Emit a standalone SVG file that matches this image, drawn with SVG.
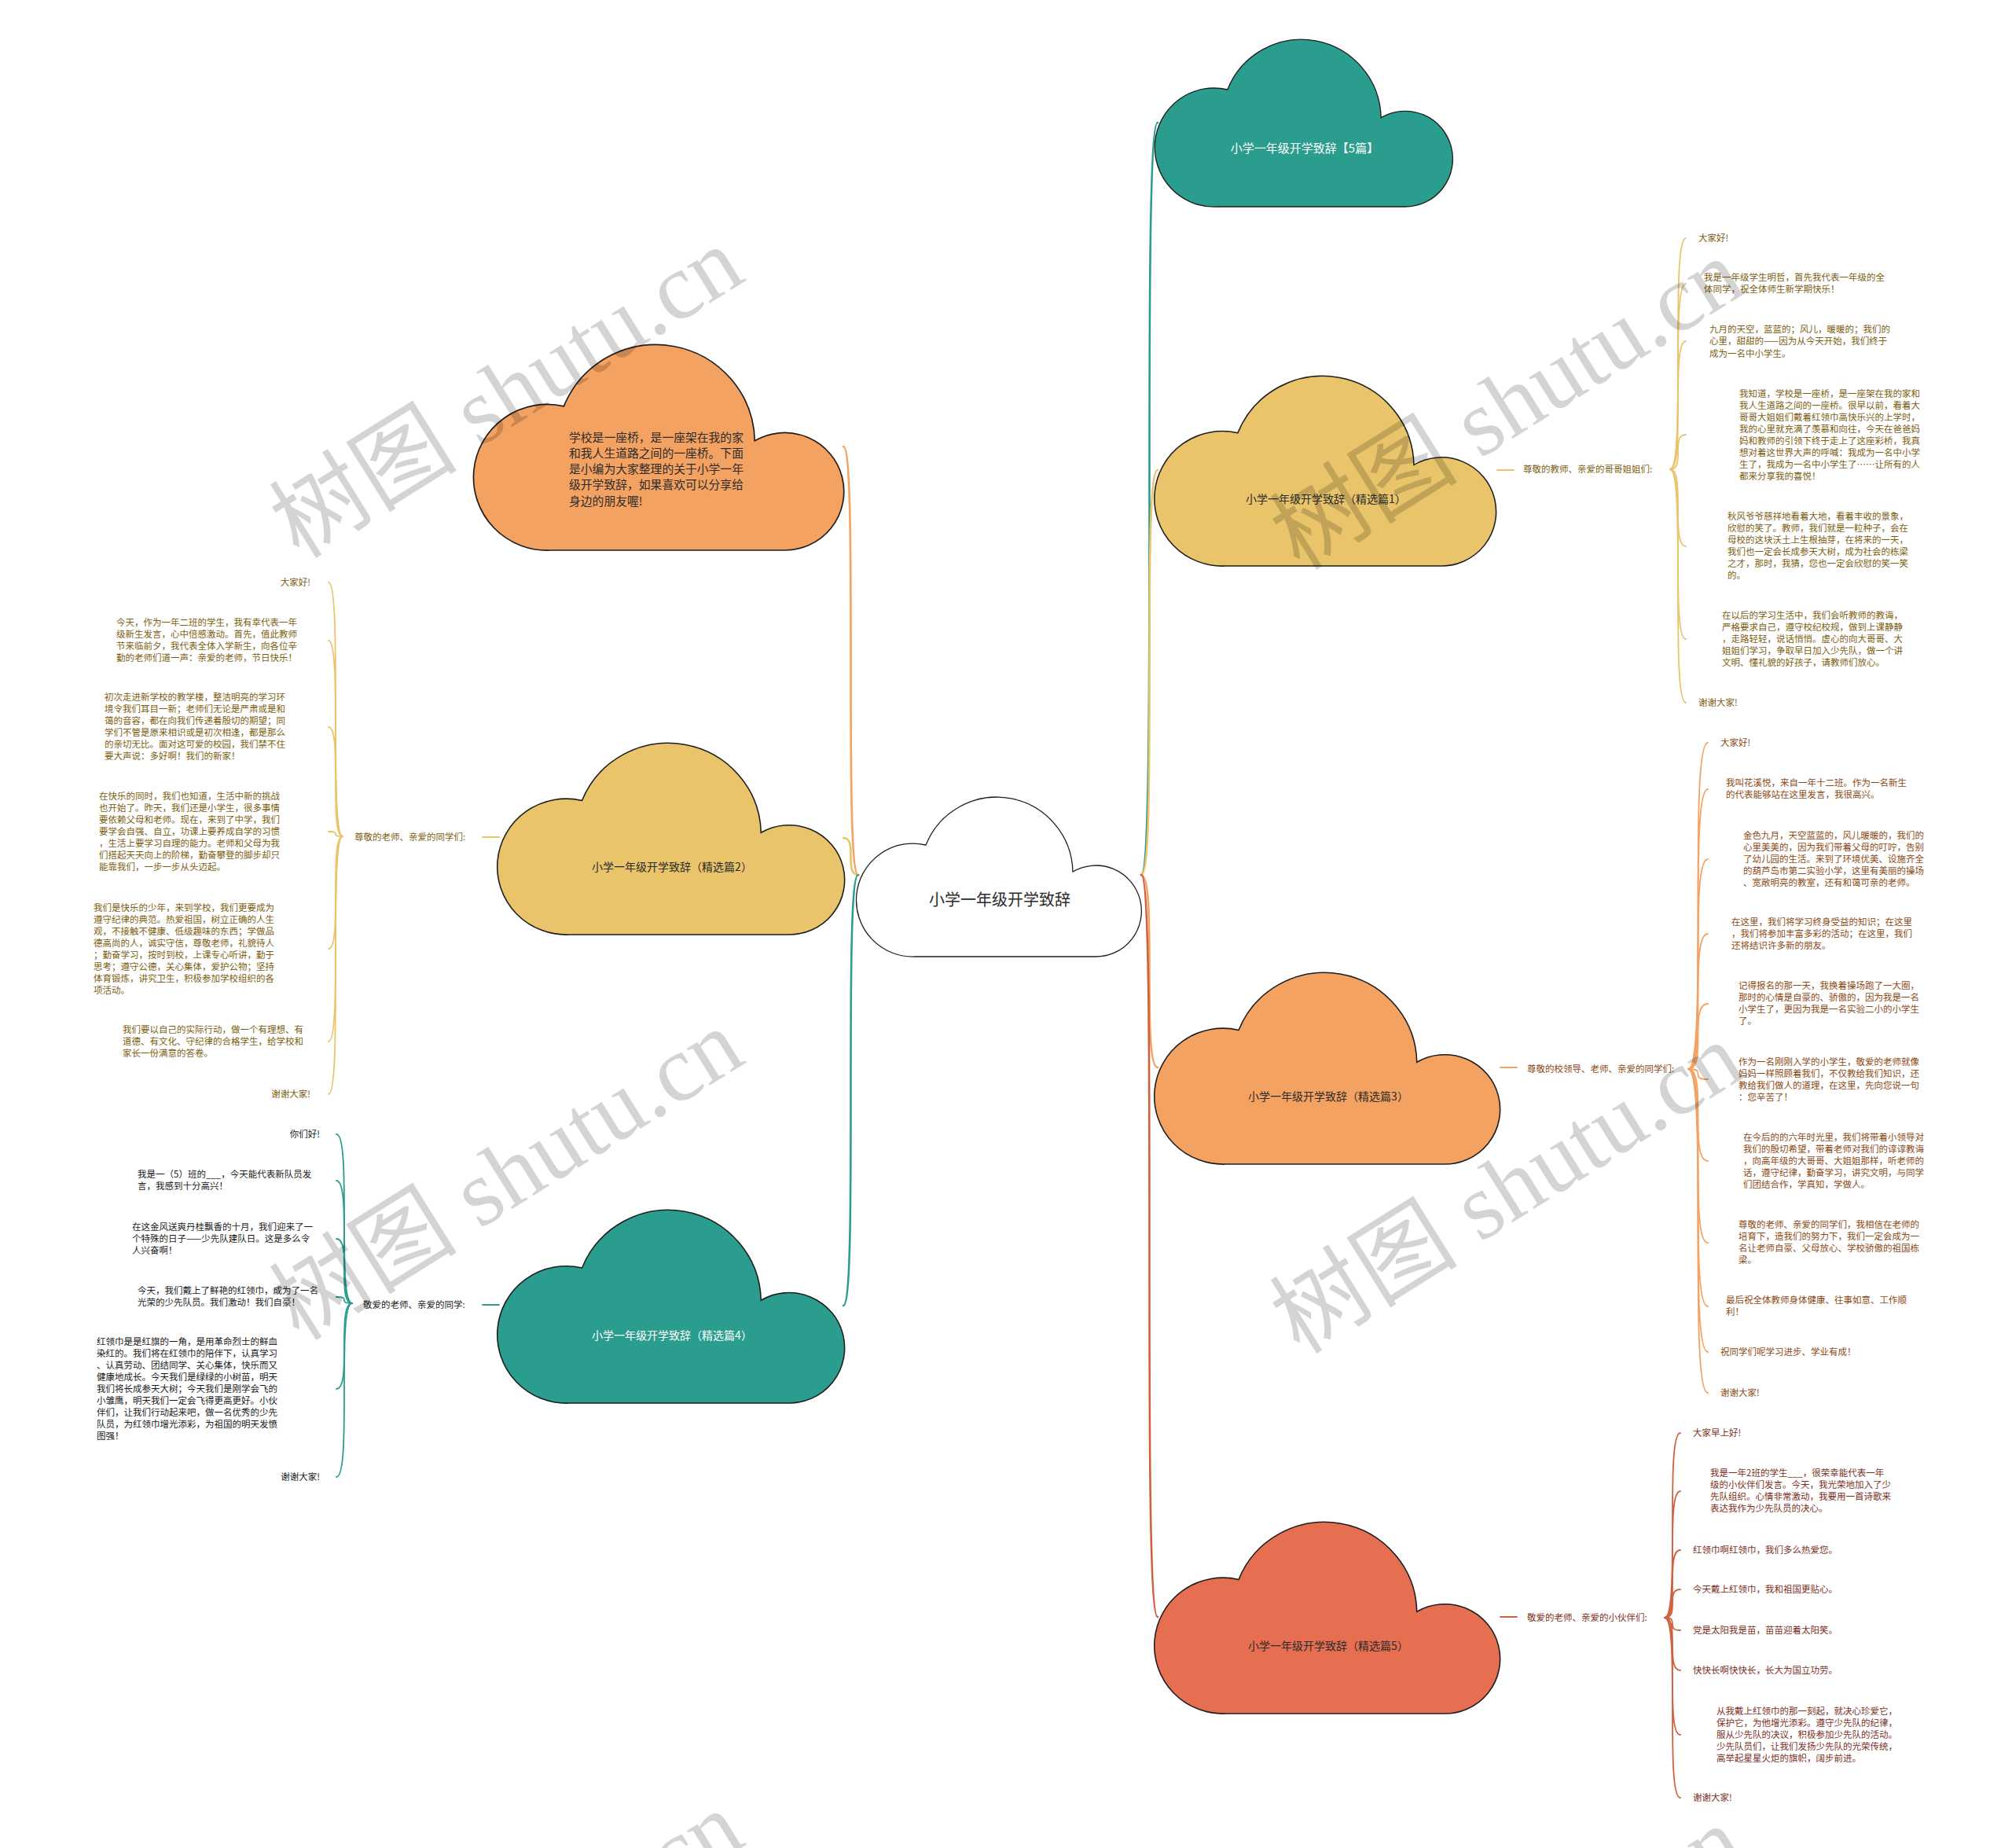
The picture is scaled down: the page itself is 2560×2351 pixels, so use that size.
<svg xmlns="http://www.w3.org/2000/svg" xmlns:xlink="http://www.w3.org/1999/xlink" width="2560" height="2351" viewBox="0 0 2560 2351">
<style>
text{font-family:"Noto Sans CJK SC","Noto Sans",sans-serif}
.cloud{stroke:#1e1e1e;stroke-width:1.3}
.c-teal{fill:#2A9D8F}.c-orange{fill:#F4A261}.c-yellow{fill:#E9C46A}.c-red{fill:#E76F51}.c-white{fill:#ffffff}
.ttl{font-size:14px;text-anchor:middle}
.dark{fill:#2b2b2b}.light{fill:#ffffff}
.leaf{font-size:11.5px}
.lbl{font-size:11.5px}
.ty{fill:#7d5e10}.to{fill:#8c4a14}.tr{fill:#7c2f1e}.tt{fill:#1a1a1a}
.ln{fill:none;stroke-linecap:round}
.ly{stroke:#E9C46A}.lo{stroke:#F4A261}.lt{stroke:#2A9D8F}.lr{stroke:#D0613F}
.main{stroke-width:2.6}.sub{stroke-width:1.8}
.wm{font-family:"Liberation Serif","Noto Sans CJK SC",serif;font-size:120px;fill:#000;fill-opacity:0.17;text-anchor:middle}
</style>
<defs>
<path id="cloud" d="M72,204 A72,72 0 1 1 85,62 A97,97 0 0 1 272,96 A58,58 0 1 1 300,204 Z"/>
</defs>
<rect width="2560" height="2351" fill="#ffffff"/>

<g id="connectors">
<path class="ln lo main" d="M1092,1113 C1073,1113 1092,568 1073,568"/>
<path class="ln ly main" d="M1092,1113 C1073,1113 1092,1066 1073,1066"/>
<path class="ln lt main" d="M1092,1113 C1073,1113 1092,1661 1073,1661"/>
<path class="ln lt main" d="M1452,1113 C1473,1113 1452,156 1473,156"/>
<path class="ln ly main" d="M1452,1113 C1473,1113 1452,598 1473,598"/>
<path class="ln lo main" d="M1452,1113 C1473,1113 1452,1358 1473,1358"/>
<path class="ln lr main" d="M1452,1113 C1473,1113 1452,2057 1473,2057"/>
<path class="ln ly sub" d="M1905,598 H1926"/>
<path class="ln lo sub" d="M1909,1358 H1930"/>
<path class="ln lr sub" d="M1909,2057 H1930"/>
<path class="ln ly sub" d="M614,1065 H635"/>
<path class="ln lt sub" d="M614,1660 H635"/>
<g class="ln ly sub">
<path d="M436,1064 C418,1064 436,741 418,741"/>
<path d="M436,1064 C418,1064 436,815 418,815"/>
<path d="M436,1064 C418,1064 436,925 418,925"/>
<path d="M436,1064 C418,1064 436,1058 418,1058"/>
<path d="M436,1064 C418,1064 436,1207 418,1207"/>
<path d="M436,1064 C418,1064 436,1325 418,1325"/>
<path d="M436,1064 C418,1064 436,1392 418,1392"/>
</g>
<g class="ln lt sub">
<path d="M448,1658 C428,1658 448,1443 428,1443"/>
<path d="M448,1658 C428,1658 448,1502 428,1502"/>
<path d="M448,1658 C428,1658 448,1576 428,1576"/>
<path d="M448,1658 C428,1658 448,1650 428,1650"/>
<path d="M448,1658 C428,1658 448,1767 428,1767"/>
<path d="M448,1658 C428,1658 448,1879 428,1879"/>
</g>
<g class="ln ly sub">
<path d="M2125,597 C2145,597 2125,303 2145,303"/>
<path d="M2125,597 C2145,597 2125,361 2145,361"/>
<path d="M2125,597 C2145,597 2125,434 2145,434"/>
<path d="M2125,597 C2145,597 2125,553 2145,553"/>
<path d="M2125,597 C2145,597 2125,695 2145,695"/>
<path d="M2125,597 C2145,597 2125,813 2145,813"/>
<path d="M2125,597 C2145,597 2125,894 2145,894"/>
</g>
<g class="ln lo sub">
<path d="M2148,1360 C2173,1360 2148,945 2173,945"/>
<path d="M2148,1360 C2173,1360 2148,1004 2173,1004"/>
<path d="M2148,1360 C2173,1360 2148,1093 2173,1093"/>
<path d="M2148,1360 C2173,1360 2148,1188 2173,1188"/>
<path d="M2148,1360 C2173,1360 2148,1277 2173,1277"/>
<path d="M2148,1360 C2173,1360 2148,1373 2173,1373"/>
<path d="M2148,1360 C2173,1360 2148,1477 2173,1477"/>
<path d="M2148,1360 C2173,1360 2148,1581 2173,1581"/>
<path d="M2148,1360 C2173,1360 2148,1662 2173,1662"/>
<path d="M2148,1360 C2173,1360 2148,1720 2173,1720"/>
<path d="M2148,1360 C2173,1360 2148,1772 2173,1772"/>
</g>
<g class="ln lr sub">
<path d="M2118,2058 C2138,2058 2118,1823 2138,1823"/>
<path d="M2118,2058 C2138,2058 2118,1897 2138,1897"/>
<path d="M2118,2058 C2138,2058 2118,1972 2138,1972"/>
<path d="M2118,2058 C2138,2058 2118,2022 2138,2022"/>
<path d="M2118,2058 C2138,2058 2118,2074 2138,2074"/>
<path d="M2118,2058 C2138,2058 2118,2125 2138,2125"/>
<path d="M2118,2058 C2138,2058 2118,2207 2138,2207"/>
<path d="M2118,2058 C2138,2058 2118,2287 2138,2287"/>
</g>
</g>

<g id="root">
<use href="#cloud" class="cloud c-white" transform="translate(1093,1013)"/>
<text x="1272" y="1152" style="font-size:20px;text-anchor:middle" class="dark">小学一年级开学致辞</text>
</g>

<g id="title5">
<use href="#cloud" class="cloud c-teal" transform="translate(1473,49) scale(1.0447,1.049)"/>
<text x="1660" y="194" style="font-size:15px;text-anchor:middle" class="light">小学一年级开学致辞【5篇】</text>
</g>

<g id="intro">
<use href="#cloud" class="cloud c-orange" transform="translate(607,437) scale(1.2989,1.2892)"/>
<text style="font-size:14.8px" class="dark">
<tspan x="724" y="562">学校是一座桥，是一座架在我的家</tspan>
<tspan x="724" y="582">和我人生道路之间的一座桥。下面</tspan>
<tspan x="724" y="602">是小编为大家整理的关于小学一年</tspan>
<tspan x="724" y="622">级开学致辞，如果喜欢可以分享给</tspan>
<tspan x="724" y="643">身边的朋友喔!</tspan>
</text>
</g>

<g id="p2">
<use href="#cloud" class="cloud c-yellow" transform="translate(637,944) scale(1.2179,1.201)"/>
<text x="855" y="1108" class="ttl dark">小学一年级开学致辞（精选篇2）</text>
<text x="451" y="1069" class="lbl ty">尊敬的老师、亲爱的同学们:</text>
<g class="leaf ty">
<text x="395" y="745" text-anchor="end">大家好!</text>
<text><tspan x="148" y="796">今天，作为一年二班的学生，我有幸代表一年</tspan><tspan x="148" y="811">级新生发言，心中倍感激动。首先，值此教师</tspan><tspan x="148" y="826">节来临前夕，我代表全体入学新生，向各位辛</tspan><tspan x="148" y="841">勤的老师们道一声：亲爱的老师，节日快乐！</tspan></text>
<text><tspan x="133" y="891">初次走进新学校的教学楼，整洁明亮的学习环</tspan><tspan x="133" y="906">境令我们耳目一新；老师们无论是严肃或是和</tspan><tspan x="133" y="921">蔼的音容，都在向我们传递着殷切的期望；同</tspan><tspan x="133" y="936">学们不管是原来相识或是初次相逢，都是那么</tspan><tspan x="133" y="951">的亲切无比。面对这可爱的校园，我们禁不住</tspan><tspan x="133" y="966">要大声说：多好啊！我们的新家！</tspan></text>
<text><tspan x="126" y="1017">在快乐的同时，我们也知道，生活中新的挑战</tspan><tspan x="126" y="1032">也开始了。昨天，我们还是小学生，很多事情</tspan><tspan x="126" y="1047">要依赖父母和老师。现在，来到了中学，我们</tspan><tspan x="126" y="1062">要学会自强、自立，功课上要养成自学的习惯</tspan><tspan x="126" y="1077">，生活上要学习自理的能力。老师和父母为我</tspan><tspan x="126" y="1092">们搭起天天向上的阶梯，勤奋攀登的脚步却只</tspan><tspan x="126" y="1107">能靠我们，一步一步从头迈起。</tspan></text>
<text><tspan x="119" y="1159">我们是快乐的少年，来到学校，我们更要成为</tspan><tspan x="119" y="1174">遵守纪律的典范。热爱祖国，树立正确的人生</tspan><tspan x="119" y="1189">观，不接触不健康、低级趣味的东西；学做品</tspan><tspan x="119" y="1204">德高尚的人，诚实守信，尊敬老师，礼貌待人</tspan><tspan x="119" y="1219">；勤奋学习，按时到校，上课专心听讲，勤于</tspan><tspan x="119" y="1234">思考；遵守公德，关心集体，爱护公物；坚持</tspan><tspan x="119" y="1249">体育锻炼，讲究卫生，积极参加学校组织的各</tspan><tspan x="119" y="1264">项活动。</tspan></text>
<text><tspan x="156" y="1314">我们要以自己的实际行动，做一个有理想、有</tspan><tspan x="156" y="1329">道德、有文化、守纪律的合格学生，给学校和</tspan><tspan x="156" y="1344">家长一份满意的答卷。</tspan></text>
<text x="395" y="1396" text-anchor="end">谢谢大家!</text>
</g>
</g>

<g id="p4">
<use href="#cloud" class="cloud c-teal" transform="translate(637,1538) scale(1.2179,1.2108)"/>
<text x="855" y="1704" class="ttl light">小学一年级开学致辞（精选篇4）</text>
<text x="462" y="1664" class="lbl tt">敬爱的老师、亲爱的同学:</text>
<g class="leaf tt">
<text x="407" y="1447" text-anchor="end">你们好!</text>
<text><tspan x="175" y="1498">我是一（5）班的___，今天能代表新队员发</tspan><tspan x="175" y="1513">言，我感到十分高兴！</tspan></text>
<text><tspan x="168" y="1565">在这金风送爽丹桂飘香的十月，我们迎来了一</tspan><tspan x="168" y="1580">个特殊的日子——少先队建队日。这是多么令</tspan><tspan x="168" y="1595">人兴奋啊！</tspan></text>
<text><tspan x="175" y="1646">今天，我们戴上了鲜艳的红领巾，成为了一名</tspan><tspan x="175" y="1661">光荣的少先队员。我们激动！我们自豪！</tspan></text>
<text><tspan x="123" y="1711">红领巾是是红旗的一角，是用革命烈士的鲜血</tspan><tspan x="123" y="1726">染红的。我们将在红领巾的陪伴下，认真学习</tspan><tspan x="123" y="1741">、认真劳动、团结同学、关心集体，快乐而又</tspan><tspan x="123" y="1756">健康地成长。今天我们是绿绿的小树苗，明天</tspan><tspan x="123" y="1771">我们将长成参天大树；今天我们是刚学会飞的</tspan><tspan x="123" y="1786">小雏鹰，明天我们一定会飞得更高更好。小伙</tspan><tspan x="123" y="1801">伴们，让我们行动起来吧，做一名优秀的少先</tspan><tspan x="123" y="1816">队员，为红领巾增光添彩，为祖国的明天发愤</tspan><tspan x="123" y="1831">图强！</tspan></text>
<text x="407" y="1883" text-anchor="end">谢谢大家!</text>
</g>
</g>

<g id="p1">
<use href="#cloud" class="cloud c-yellow" transform="translate(1473,477) scale(1.1983,1.1912)"/>
<text x="1687" y="640" class="ttl dark">小学一年级开学致辞（精选篇1）</text>
<text x="1938" y="601" class="lbl ty">尊敬的教师、亲爱的哥哥姐姐们:</text>
<g class="leaf ty">
<text x="2161" y="307">大家好!</text>
<text><tspan x="2168" y="357">我是一年级学生明哲，首先我代表一年级的全</tspan><tspan x="2168" y="372">体同学，祝全体师生新学期快乐！</tspan></text>
<text><tspan x="2175" y="423">九月的天空，蓝蓝的；风儿，暖暖的；我们的</tspan><tspan x="2175" y="438">心里，甜甜的——因为从今天开始，我们终于</tspan><tspan x="2175" y="454">成为一名中小学生。</tspan></text>
<text><tspan x="2213" y="505">我知道，学校是一座桥，是一座架在我的家和</tspan><tspan x="2213" y="520">我人生道路之间的一座桥。很早以前，看着大</tspan><tspan x="2213" y="535">哥哥大姐姐们戴着红领巾高快乐兴的上学时，</tspan><tspan x="2213" y="550">我的心里就充满了羡慕和向往，今天在爸爸妈</tspan><tspan x="2213" y="565">妈和教师的引领下终于走上了这座彩桥，我真</tspan><tspan x="2213" y="580">想对着这世界大声的呼喊：我成为一名中小学</tspan><tspan x="2213" y="595">生了，我成为一名中小学生了……让所有的人</tspan><tspan x="2213" y="610">都来分享我的喜悦！</tspan></text>
<text><tspan x="2198" y="661">秋风爷爷慈祥地看着大地，看着丰收的景象，</tspan><tspan x="2198" y="676">欣慰的笑了。教师，我们就是一粒种子，会在</tspan><tspan x="2198" y="691">母校的这块沃土上生根抽芽，在将来的一天，</tspan><tspan x="2198" y="706">我们也一定会长成参天大树，成为社会的栋梁</tspan><tspan x="2198" y="721">之才，那时，我猜，您也一定会欣慰的笑一笑</tspan><tspan x="2198" y="736">的。</tspan></text>
<text><tspan x="2191" y="787">在以后的学习生活中，我们会听教师的教诲，</tspan><tspan x="2191" y="802">严格要求自己，遵守校纪校规，做到上课静静</tspan><tspan x="2191" y="817">，走路轻轻，说话悄悄。虚心的向大哥哥、大</tspan><tspan x="2191" y="832">姐姐们学习，争取早日加入少先队，做一个讲</tspan><tspan x="2191" y="847">文明、懂礼貌的好孩子，请教师们放心。</tspan></text>
<text x="2161" y="898">谢谢大家!</text>
</g>
</g>

<g id="p3">
<use href="#cloud" class="cloud c-orange" transform="translate(1473,1236) scale(1.2123,1.201)"/>
<text x="1690" y="1400" class="ttl dark">小学一年级开学致辞（精选篇3）</text>
<text x="1943" y="1364" class="lbl to">尊敬的校领导、老师、亲爱的同学们:</text>
<g class="leaf to">
<text x="2189" y="949">大家好!</text>
<text><tspan x="2196" y="1000">我叫花溪悦，来自一年十二班。作为一名新生</tspan><tspan x="2196" y="1015">的代表能够站在这里发言，我很高兴。</tspan></text>
<text><tspan x="2218" y="1067">金色九月，天空蓝蓝的，风儿暖暖的，我们的</tspan><tspan x="2218" y="1082">心里美美的，因为我们带着父母的叮咛，告别</tspan><tspan x="2218" y="1097">了幼儿园的生活。来到了环境优美、设施齐全</tspan><tspan x="2218" y="1112">的葫芦岛市第二实验小学，这里有美丽的操场</tspan><tspan x="2218" y="1127">、宽敞明亮的教室，还有和蔼可亲的老师。</tspan></text>
<text><tspan x="2203" y="1177">在这里，我们将学习终身受益的知识；在这里</tspan><tspan x="2203" y="1192">，我们将参加丰富多彩的活动；在这里，我们</tspan><tspan x="2203" y="1207">还将结识许多新的朋友。</tspan></text>
<text><tspan x="2212" y="1258">记得报名的那一天，我换着操场跑了一大圈，</tspan><tspan x="2212" y="1273">那时的心情是自豪的、骄傲的，因为我是一名</tspan><tspan x="2212" y="1288">小学生了，更因为我是一名实验二小的小学生</tspan><tspan x="2212" y="1303">了。</tspan></text>
<text><tspan x="2212" y="1355">作为一名刚刚入学的小学生，敬爱的老师就像</tspan><tspan x="2212" y="1370">妈妈一样照顾着我们，不仅教给我们知识，还</tspan><tspan x="2212" y="1385">教给我们做人的道理，在这里，先向您说一句</tspan><tspan x="2212" y="1400">：您辛苦了！</tspan></text>
<text><tspan x="2218" y="1451">在今后的的六年时光里，我们将带着小领导对</tspan><tspan x="2218" y="1466">我们的殷切希望，带着老师对我们的谆谆教诲</tspan><tspan x="2218" y="1481">，向高年级的大哥哥、大姐姐那样，听老师的</tspan><tspan x="2218" y="1496">话，遵守纪律，勤奋学习，讲究文明，与同学</tspan><tspan x="2218" y="1511">们团结合作，学真知，学做人。</tspan></text>
<text><tspan x="2212" y="1562">尊敬的老师、亲爱的同学们，我相信在老师的</tspan><tspan x="2212" y="1577">培育下，造我们的努力下，我们一定会成为一</tspan><tspan x="2212" y="1592">名让老师自豪、父母放心、学校骄傲的祖国栋</tspan><tspan x="2212" y="1607">梁。</tspan></text>
<text><tspan x="2196" y="1658">最后祝全体教师身体健康、往事如意、工作顺</tspan><tspan x="2196" y="1673">利！</tspan></text>
<text x="2189" y="1724">祝同学们呢学习进步、学业有成！</text>
<text x="2189" y="1776">谢谢大家!</text>
</g>
</g>

<g id="p5">
<use href="#cloud" class="cloud c-red" transform="translate(1473,1935) scale(1.2123,1.201)"/>
<text x="1690" y="2099" class="ttl dark">小学一年级开学致辞（精选篇5）</text>
<text x="1943" y="2062" class="lbl tr">敬爱的老师、亲爱的小伙伴们:</text>
<g class="leaf tr">
<text x="2154" y="1827">大家早上好!</text>
<text><tspan x="2176" y="1878">我是一年2班的学生___，很荣幸能代表一年</tspan><tspan x="2176" y="1893">级的小伙伴们发言。今天，我光荣地加入了少</tspan><tspan x="2176" y="1908">先队组织。心情非常激动，我要用一首诗歌来</tspan><tspan x="2176" y="1923">表达我作为少先队员的决心。</tspan></text>
<text x="2154" y="1976">红领巾啊红领巾，我们多么热爱您。</text>
<text x="2154" y="2026">今天戴上红领巾，我和祖国更贴心。</text>
<text x="2154" y="2078">党是太阳我是苗，苗苗迎着太阳笑。</text>
<text x="2154" y="2129">快快长啊快快长，长大为国立功劳。</text>
<text><tspan x="2184" y="2181">从我戴上红领巾的那一刻起，就决心珍爱它，</tspan><tspan x="2184" y="2196">保护它，为他增光添彩。遵守少先队的纪律，</tspan><tspan x="2184" y="2211">服从少先队的决议，积极参加少先队的活动。</tspan><tspan x="2184" y="2226">少先队员们，让我们发扬少先队的光荣传统，</tspan><tspan x="2184" y="2241">高举起星星火炬的旗帜，阔步前进。</tspan></text>
<text x="2154" y="2291">谢谢大家!</text>
</g>
</g>

<g id="watermarks">
<text class="wm" x="645" y="540" transform="rotate(-32 645 500)">树图 shutu.cn</text>
<text class="wm" x="1918" y="555" transform="rotate(-32 1918 515)">树图 shutu.cn</text>
<text class="wm" x="645" y="1535" transform="rotate(-32 645 1495)">树图 shutu.cn</text>
<text class="wm" x="1918" y="1552" transform="rotate(-32 1918 1512)">树图 shutu.cn</text>
<text class="wm" x="645" y="2530" transform="rotate(-32 645 2490)">树图 shutu.cn</text>
<text class="wm" x="1918" y="2549" transform="rotate(-32 1918 2509)">树图 shutu.cn</text>
</g>
</svg>
